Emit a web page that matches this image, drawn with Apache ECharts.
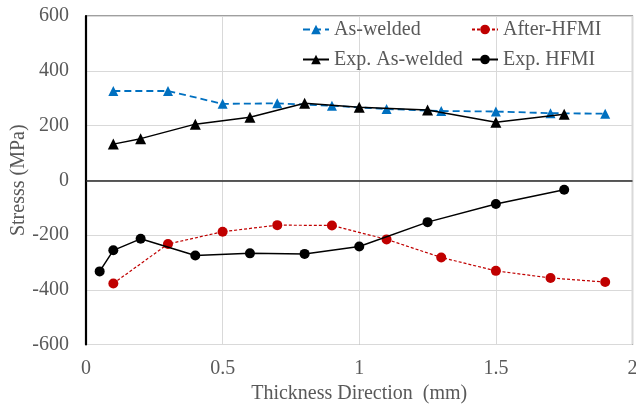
<!DOCTYPE html>
<html>
<head>
<meta charset="utf-8">
<script src="https://cdn.jsdelivr.net/npm/echarts@6/dist/echarts.min.js"></script>
<style>
  html, body { margin: 0; padding: 0; background: #fff; }
  #chart { width: 636px; height: 406px; }
</style>
</head>
<body>
<div id="chart"></div>
<script>
// Residual stress through the thickness (MPa vs mm)
const simDepth = [0.1, 0.3, 0.5, 0.7, 0.9, 1.1, 1.3, 1.5, 1.7, 1.9];
const asWelded = [326, 326, 279, 281, 272, 260, 253, 251, 245, 243];
const afterHFMI = [-377, -233, -188, -164, -165, -216, -282, -331, -357, -372];

const expAsWeldedDepth = [0.1, 0.2, 0.4, 0.6, 0.8, 1.0, 1.25, 1.5, 1.75];
const expAsWelded = [132, 152, 205, 230, 281, 267, 257, 212, 241];

const expHFMIDepth = [0.05, 0.1, 0.2, 0.4, 0.6, 0.8, 1.0, 1.25, 1.5, 1.75];
const expHFMI = [-333, -256, -214, -275, -267, -269, -242, -153, -87, -35];

const xTicks = [0, 0.5, 1, 1.5, 2];
const yTicks = [-600, -400, -200, 0, 200, 400, 600];

const pairs = (xs, ys) => xs.map((x, i) => [x, ys[i]]);

const FONT = 'Liberation Serif';
const TEXT = '#595959';

const chart = echarts.init(document.getElementById('chart'), null, { renderer: 'canvas' });

chart.setOption({
  animation: false,
  backgroundColor: '#ffffff',
  textStyle: { fontFamily: FONT },
  grid: {
    left: 86, right: 3.5, top: 16, bottom: 61.5,
    containLabel: false, outerBoundsMode: 'none',
    show: true, borderColor: '#404040', borderWidth: 1.2, backgroundColor: 'transparent'
  },
  legend: [
    {
      data: ['As-welded', 'Exp. As-welded'],
      orient: 'vertical', left: 297, top: 14.5, itemGap: 10,
      itemWidth: 26, itemHeight: 12,
      textStyle: { fontFamily: FONT, fontSize: 20, color: TEXT }
    },
    {
      data: ['After-HFMI', 'Exp. HFMI'],
      orient: 'vertical', left: 466, top: 14.5, itemGap: 10,
      itemWidth: 26, itemHeight: 12,
      textStyle: { fontFamily: FONT, fontSize: 20, color: TEXT }
    }
  ],
  xAxis: {
    type: 'value', min: xTicks[0], max: xTicks[xTicks.length - 1], interval: 0.5,
    name: 'Thickness Direction  (mm)', nameLocation: 'middle', nameGap: 39,
    nameMoveOverlap: false,
    nameTextStyle: { fontFamily: FONT, fontSize: 20, color: TEXT },
    axisLine: { show: false },
    axisTick: { show: false },
    axisLabel: { fontFamily: FONT, fontSize: 20, color: TEXT, margin: 14 },
    splitLine: { show: true, lineStyle: { color: '#d9d9d9', width: 1 } }
  },
  yAxis: {
    type: 'value', min: yTicks[0], max: yTicks[yTicks.length - 1], interval: 200,
    name: 'Stresss (MPa)', nameLocation: 'middle', nameGap: 57, nameRotate: 90,
    nameMoveOverlap: false,
    nameTextStyle: { fontFamily: FONT, fontSize: 20, color: TEXT },
    axisLine: { show: true, onZero: false, lineStyle: { color: '#000000', width: 2.2 } },
    axisTick: { show: false },
    axisLabel: { fontFamily: FONT, fontSize: 20, color: TEXT, margin: 17 },
    splitLine: { show: true, lineStyle: { color: '#d9d9d9', width: 1 } }
  },
  series: [
    {
      name: 'As-welded', type: 'line', data: pairs(simDepth, asWelded),
      symbol: 'triangle', symbolSize: 10,
      itemStyle: { color: '#0070C0' },
      lineStyle: { color: '#0070C0', width: 1.8, type: [7, 4] },
      z: 2,
      markLine: {
        silent: true, symbol: 'none', label: { show: false },
        lineStyle: { color: '#262626', width: 1.5, type: 'solid' },
        data: [{ yAxis: 0 }]
      }
    },
    {
      name: 'After-HFMI', type: 'line', data: pairs(simDepth, afterHFMI),
      symbol: 'circle', symbolSize: 10,
      itemStyle: { color: '#C00000' },
      lineStyle: { color: '#C00000', width: 1.2, type: [3, 2] },
      z: 2
    },
    {
      name: 'Exp. As-welded', type: 'line', data: pairs(expAsWeldedDepth, expAsWelded),
      symbol: 'triangle', symbolSize: 11,
      itemStyle: { color: '#000000' },
      lineStyle: { color: '#000000', width: 1.5 },
      z: 3
    },
    {
      name: 'Exp. HFMI', type: 'line', data: pairs(expHFMIDepth, expHFMI),
      symbol: 'circle', symbolSize: 10,
      itemStyle: { color: '#000000' },
      lineStyle: { color: '#000000', width: 1.5 },
      z: 3
    }
  ]
});
</script>
</body>
</html>
